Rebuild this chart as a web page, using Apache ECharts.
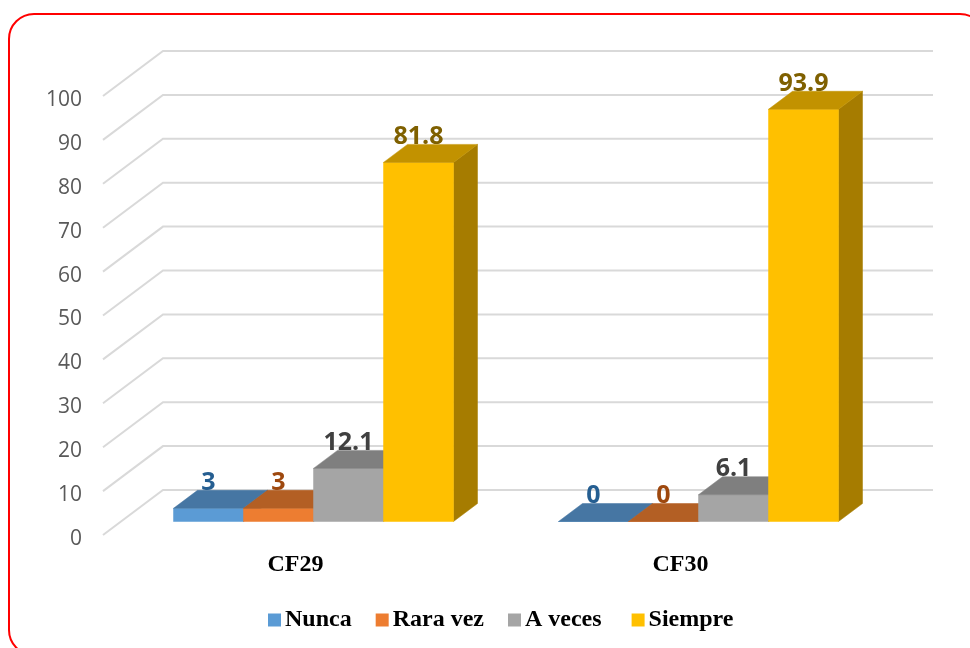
<!DOCTYPE html>
<html>
<head>
<meta charset="utf-8">
<title>CF29 CF30</title>
<script src="https://cdn.jsdelivr.net/npm/echarts@6/dist/echarts.min.js"></script>
<style>
  html, body { margin: 0; padding: 0; background: #fff; }
  #chart { width: 970px; height: 648px; overflow: hidden; }
</style>
</head>
<body>
<div id="chart"></div>
<script>
const categories = ['CF29', 'CF30'];
const nunca = [3, 0];
const raraVez = [3, 0];
const aVeces = [12.1, 6.1];
const siempre = [81.8, 93.9];
const yTicks = [0, 10, 20, 30, 40, 50, 60, 70, 80, 90, 100];

// front, top, side, label
const palette = {
    Nunca: ['#5B9BD5', '#4676A3', '#44739F', '#255E91'],
    'Rara vez': ['#ED7D31', '#B35F24', '#B35F24', '#9E480E'],
    'A veces': ['#A5A5A5', '#7F7F7F', '#7C7C7C', '#404040'],
    Siempre: ['#FFC000', '#C29200', '#A67C00', '#7F6000']
};

// fake 3d: wall goes back 60,-45 from the axis plane, bars sit inside it
const WALL_X = 60, WALL_Y = 45;
const BAR_X = 18, BAR_Y = 13.5;
const DEPTH_X = 24, DEPTH_Y = 18;
const BAR_SHARE = 70 / 385;

function renderWall(params, api) {
    const box = params.coordSys;
    const y = api.coord([0, api.value(1)])[1];
    return {
        type: 'polyline',
        shape: {
            points: [
                [box.x, y],
                [box.x + WALL_X, y - WALL_Y],
                [box.x + box.width + WALL_X, y - WALL_Y]
            ]
        },
        style: { fill: null, stroke: '#D9D9D9', lineWidth: 2 }
    };
}

function makeBarRender(name, index) {
    const colors = palette[name];
    return function (params, api) {
        const value = api.value(1);
        const top = api.coord([api.value(0), value]);
        const base = api.coord([api.value(0), 0]);
        const w = api.size([1, 0])[0] * BAR_SHARE;
        const x0 = top[0] + (index - 2) * w + BAR_X;
        const x1 = x0 + w;
        const y0 = base[1] - BAR_Y;
        const y1 = top[1] - BAR_Y;
        const poly = (points, fill) => ({
            type: 'polygon',
            shape: { points: points },
            style: { fill: fill, stroke: fill, lineWidth: 0.5 }
        });
        return {
            type: 'group',
            children: [
                poly([[x1, y0], [x1 + DEPTH_X, y0 - DEPTH_Y], [x1 + DEPTH_X, y1 - DEPTH_Y], [x1, y1]], colors[2]),
                poly([[x0, y0], [x1, y0], [x1, y1], [x0, y1]], colors[0]),
                poly([[x0, y1], [x1, y1], [x1 + DEPTH_X, y1 - DEPTH_Y], [x0 + DEPTH_X, y1 - DEPTH_Y]], colors[1]),
                {
                    type: 'text',
                    z2: 10,
                    style: {
                        x: x0 + w / 2,
                        y: y1 - DEPTH_Y - 7.5,
                        text: String(value),
                        fill: colors[3],
                        font: 'bold 25px "Open Sans"',
                        align: 'center',
                        verticalAlign: 'middle'
                    }
                }
            ]
        };
    };
}

function barSeries(name, values, index) {
    return {
        name: name,
        type: 'custom',
        renderItem: makeBarRender(name, index),
        itemStyle: { color: palette[name][0] },
        encode: { x: 0, y: 1 },
        data: values.map((v, i) => [i, v])
    };
}

const chart = echarts.init(document.getElementById('chart'), null, { renderer: 'canvas' });
chart.setOption({
    animation: false,
    backgroundColor: '#fff',
    graphic: [{
        type: 'rect',
        shape: { x: 9, y: 14, width: 976, height: 641, r: 25 },
        style: { fill: null, stroke: '#FF0000', lineWidth: 2 },
        silent: true
    }],
    grid: { left: 103, top: 96, width: 770, height: 439, containLabel: false },
    legend: {
        data: ['Nunca', 'Rara vez', 'A veces', 'Siempre'],
        left: 263,
        top: 603,
        icon: 'rect',
        itemWidth: 13,
        itemHeight: 13,
        itemGap: 24,
        // the gap after "A veces" is a bit wider than the others in the original
        formatter: name => (name === 'A veces' ? name + ' ' : name),
        textStyle: {
            color: '#000',
            fontFamily: '"Liberation Serif"',
            fontWeight: 'bold',
            fontSize: 24,
            padding: [0, 0, 0, -1]
        }
    },
    xAxis: {
        type: 'category',
        data: categories,
        axisLine: { show: false },
        axisTick: { show: false },
        axisLabel: {
            color: '#000',
            fontFamily: '"Liberation Serif"',
            fontWeight: 'bold',
            fontSize: 24,
            margin: 18
        }
    },
    yAxis: {
        type: 'value',
        min: 0,
        max: 100,
        interval: 10,
        axisLine: { show: false },
        axisTick: { show: false },
        splitLine: { show: false },
        axisLabel: {
            margin: 21,
            // labels sit slightly under their tick in the original
            formatter: v => '{t|' + v + '}',
            rich: {
                t: {
                    color: '#595959',
                    fontFamily: '"Open Sans"',
                    fontSize: 21,
                    padding: [8, 0, 0, 0]
                }
            }
        }
    },
    series: [
        {
            type: 'custom',
            silent: true,
            renderItem: renderWall,
            encode: { y: 1 },
            data: yTicks.map(v => [0, v])
        },
        barSeries('Nunca', nunca, 0),
        barSeries('Rara vez', raraVez, 1),
        barSeries('A veces', aVeces, 2),
        barSeries('Siempre', siempre, 3)
    ]
});
</script>
</body>
</html>
